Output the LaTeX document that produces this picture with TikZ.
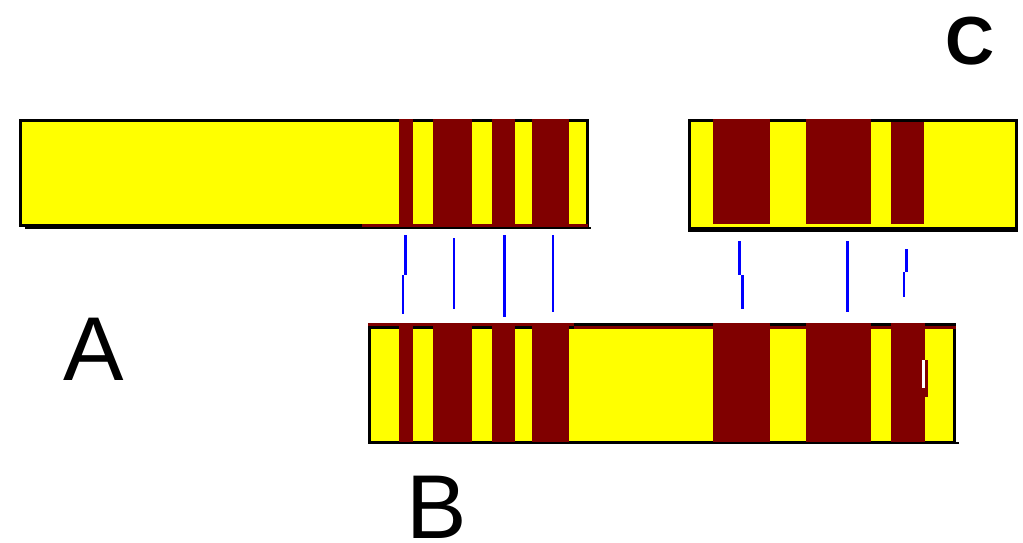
\documentclass[tikz,border=0pt]{standalone}
\usepackage{fontspec}
\setmainfont{Liberation Sans}
\usepackage{tikz}
\usetikzlibrary{calc, positioning}
\definecolor{barfill}{RGB}{255,255,0}
\definecolor{bandred}{RGB}{128,0,0}
\definecolor{matchblue}{RGB}{0,0,255}

\begin{document}
\begin{tikzpicture}[x=0.75pt,y=0.75pt,yscale=-1,xscale=1,
	barframe/.style={fill=barfill, draw=black, line width=2.25pt},
	band/.style={fill=bandred},
	edge/.style={fill=black},
	thickmatch/.style={draw=matchblue, line width=2.25pt},
	thinmatch/.style={draw=matchblue, line width=1.5pt},
	biglabel/.style={anchor=base, inner sep=0pt, font=\fontsize{68}{68}\selectfont},
	boldlabel/.style={anchor=base, inner sep=0pt, font=\fontsize{51}{51}\selectfont\bfseries}]
	\useasboundingbox (0,0) rectangle (1023,542);

	%Shape: Rectangle (bar A)
	\draw [barframe] (20.5,120.7) rectangle (587,225.3);
	\fill [band] (362,224) rectangle (588.3,226.7);
	\fill [edge] (25,226.7) rectangle (590.7,229);
	\fill [band] (399,119.3) rectangle (413,224);
	\fill [band] (433,119.3) rectangle (471.5,224);
	\fill [band] (492,119.3) rectangle (515,224);
	\fill [band] (531.5,119.3) rectangle (568.5,224);

	%Shape: Rectangle (bar C)
	\draw [barframe] (689.4,120.5) rectangle (1016.6,228.5);
	\fill [edge] (688,226.7) rectangle (1018,232);
	\fill [band] (713,119.3) rectangle (770,224);
	\fill [band] (806,119.3) rectangle (871,224);
	\fill [band] (891,122) rectangle (924,224);

	%Shape: Rectangle (bar B)
	\draw [barframe] (369.1,327.5) rectangle (954.3,442.8);
	\fill [band] (368,323) rectangle (574,326);
	\fill [edge] (574,323) rectangle (955.6,326);
	\fill [band] (574,326) rectangle (955.6,329);
	\fill [edge] (368,441.7) rectangle (959,444.3);
	\fill [band] (399,323) rectangle (413,441.7);
	\fill [band] (433,323) rectangle (472,441.7);
	\fill [band] (492,323) rectangle (515,441.7);
	\fill [band] (531.5,323) rectangle (569,441.7);
	\fill [band] (713,323) rectangle (770,441.7);
	\fill [band] (806,323) rectangle (871,441.7);
	\fill [band] (891,323) rectangle (925,441.7);
	\fill [white] (921.7,360) rectangle (924.8,388);
	\fill [band] (924.8,360) rectangle (927.6,397);

	%Straight Lines (matches)
	\draw [thickmatch] (405.5,235) -- (405.5,275);
	\draw [thinmatch] (403,275) -- (403,314);
	\draw [thinmatch] (454,238) -- (454,309);
	\draw [thickmatch] (504.5,235) -- (504.5,317);
	\draw [thinmatch] (553,235) -- (553,312);
	\draw [thickmatch] (739.5,241) -- (739.5,275);
	\draw [thickmatch] (742.5,275) -- (742.5,309);
	\draw [thickmatch] (847.5,241) -- (847.5,312);
	\draw [thickmatch] (906.5,249) -- (906.5,272);
	\draw [thinmatch] (904,272) -- (904,297);

	% Text Node
	\node (labelA) [biglabel] at (94,380) {A};
	% Text Node
	\node (labelB) [biglabel] at (437,538.5) {B};
	% Text Node
	\node (labelC) [boldlabel] at (970,64.5) {C};

\end{tikzpicture}
\end{document}
